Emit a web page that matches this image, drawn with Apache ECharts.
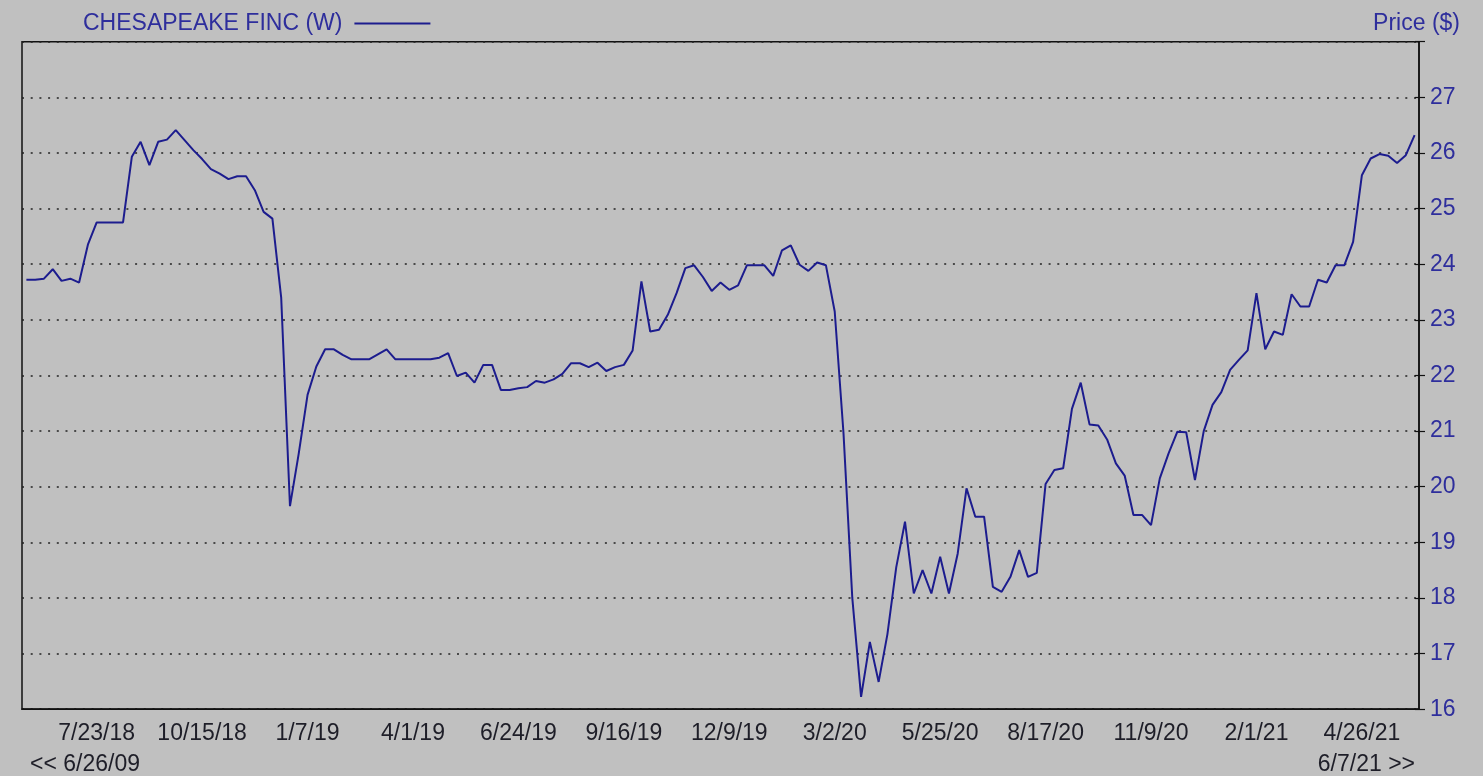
<!DOCTYPE html>
<html>
<head>
<meta charset="utf-8">
<script src="https://cdn.jsdelivr.net/npm/echarts@6/dist/echarts.min.js"></script>
<style>
  html, body { margin: 0; padding: 0; background: #c0c0c0; }
  #chart { width: 1483px; height: 776px; }
</style>
</head>
<body>
<div id="chart"></div>
<script>
const seriesName = 'CHESAPEAKE FINC (W)'
const axisTitle = 'Price ($)'
const rangeStart = '<< 6/26/09'
const rangeEnd = '6/7/21 >>'

// weekly closes, 5/28/18 .. 6/7/21
const prices = [
  23.72, 23.72, 23.74, 23.91, 23.70, 23.74, 23.67, 24.35, 24.75, 24.75,
  24.75, 24.75, 25.93, 26.20, 25.78, 26.20, 26.24, 26.41, 26.23, 26.05,
  25.89, 25.71, 25.63, 25.53, 25.58, 25.58, 25.33, 24.94, 24.82, 23.40,
  19.65, 20.60, 21.65, 22.16, 22.47, 22.47, 22.37, 22.29, 22.29, 22.29,
  22.38, 22.47, 22.29, 22.29, 22.29, 22.29, 22.29, 22.32, 22.40, 21.99,
  22.05, 21.87, 22.19, 22.19, 21.74, 21.74, 21.77, 21.79, 21.90, 21.87,
  21.93, 22.03, 22.22, 22.22, 22.15, 22.23, 22.08, 22.15, 22.19, 22.45,
  23.69, 22.79, 22.82, 23.09, 23.48, 23.93, 23.98, 23.77, 23.52, 23.67,
  23.54, 23.62, 23.98, 23.98, 23.98, 23.79, 24.25, 24.34, 23.99, 23.88,
  24.03, 23.98, 23.15, 20.96, 18.00, 16.22, 17.21, 16.49, 17.35, 18.55,
  19.37, 18.08, 18.50, 18.08, 18.74, 18.08, 18.80, 19.97, 19.46, 19.46,
  18.20, 18.11, 18.38, 18.86, 18.38, 18.45, 20.05, 20.30, 20.33, 21.40,
  21.87, 21.12, 21.10, 20.85, 20.42, 20.20, 19.49, 19.49, 19.31, 20.15,
  20.60, 20.99, 20.98, 20.12, 21.00, 21.47, 21.70, 22.10, 22.28, 22.45,
  23.48, 22.47, 22.79, 22.73, 23.46, 23.24, 23.24, 23.72, 23.67, 23.98,
  23.98, 24.40, 25.60, 25.90, 25.98, 25.95, 25.82, 25.96, 26.32
]

// week labels, one per price
const firstWeek = Date.UTC(2018, 4, 28)
const weeks = prices.map((_, i) => {
  const d = new Date(firstWeek + i * 7 * 86400000)
  return (d.getUTCMonth() + 1) + '/' + d.getUTCDate() + '/' + String(d.getUTCFullYear()).slice(2)
})

// labelled weeks: every 12th starting at 7/23/18
const firstLabel = 8
const labelStep = 12
const showWeek = (i) => i >= firstLabel && (i - firstLabel) % labelStep === 0

const font = '"Liberation Sans", Arial, sans-serif'
const blue = '#2e2e9c'
const dark = '#1e1e28'
const lineColor = '#1c1c8e'

const chart = echarts.init(document.getElementById('chart'))

chart.setOption({
  backgroundColor: '#c0c0c0',
  animation: false,
  textStyle: { fontFamily: font },
  title: {
    text: axisTitle,
    right: 23,
    top: 12,
    padding: 0,
    textStyle: { fontSize: 23, fontWeight: 'normal', color: blue, fontFamily: font }
  },
  legend: {
    data: [{ name: seriesName, icon: 'rect', itemStyle: { color: lineColor } }],
    left: 83,
    top: 12,
    padding: 0,
    align: 'right',
    itemWidth: 76,
    itemHeight: 2,
    selectedMode: false,
    textStyle: { fontSize: 23, color: blue, fontFamily: font, padding: [0, 7, 0, 0] }
  },
  grid: {
    left: 22,
    right: 64,
    top: 41.7,
    bottom: 776 - 709.2,
    show: true,
    borderColor: '#111',
    borderWidth: 1.5,
    containLabel: false
  },
  xAxis: [{
    type: 'category',
    data: weeks,
    position: 'bottom',
    boundaryGap: true,
    axisLine: { lineStyle: { color: '#111', width: 1.5 } },
    axisTick: { interval: showWeek, alignWithLabel: true, length: 7, lineStyle: { color: '#111', width: 1.2 } },
    axisLabel: { interval: showWeek, margin: 13, fontSize: 23, color: dark, fontFamily: font },
    splitLine: { show: false }
  }, {
    type: 'category',
    data: weeks,
    position: 'bottom',
    boundaryGap: true,
    axisLine: { show: false },
    axisTick: { interval: showWeek, alignWithLabel: true, inside: true, length: 7, lineStyle: { color: '#111', width: 1.2 } },
    axisLabel: { show: false },
    splitLine: { show: false }
  }],
  yAxis: [{
    type: 'value',
    position: 'right',
    min: 16,
    max: 28,
    interval: 1,
    axisLine: { show: true, lineStyle: { color: '#111', width: 1.5 } },
    axisTick: { show: true, length: 6, lineStyle: { color: '#111', width: 1.2 } },
    axisLabel: {
      margin: 11,
      fontSize: 23,
      color: blue,
      fontFamily: font,
      formatter: (v) => (v === 28 ? '' : String(v))
    },
    splitLine: { show: true, lineStyle: { color: '#222', width: 1.5, type: [2, 6.7] } }
  }, {
    type: 'value',
    position: 'right',
    min: 16,
    max: 28,
    interval: 1,
    axisLine: { show: false },
    axisTick: { show: true, inside: true, length: 4, lineStyle: { color: '#111', width: 1.2 } },
    axisLabel: { show: false },
    splitLine: { show: false }
  }],
  graphic: [
    { type: 'text', left: 30, top: 753, style: { text: rangeStart, fontSize: 23, fill: dark, fontFamily: font } },
    { type: 'text', right: 68, top: 753, style: { text: rangeEnd, fontSize: 23, fill: dark, fontFamily: font } }
  ],
  series: [{
    name: seriesName,
    type: 'line',
    data: prices,
    symbol: 'none',
    smooth: false,
    lineStyle: { color: lineColor, width: 2 },
    itemStyle: { color: lineColor }
  }]
})
</script>
</body>
</html>
